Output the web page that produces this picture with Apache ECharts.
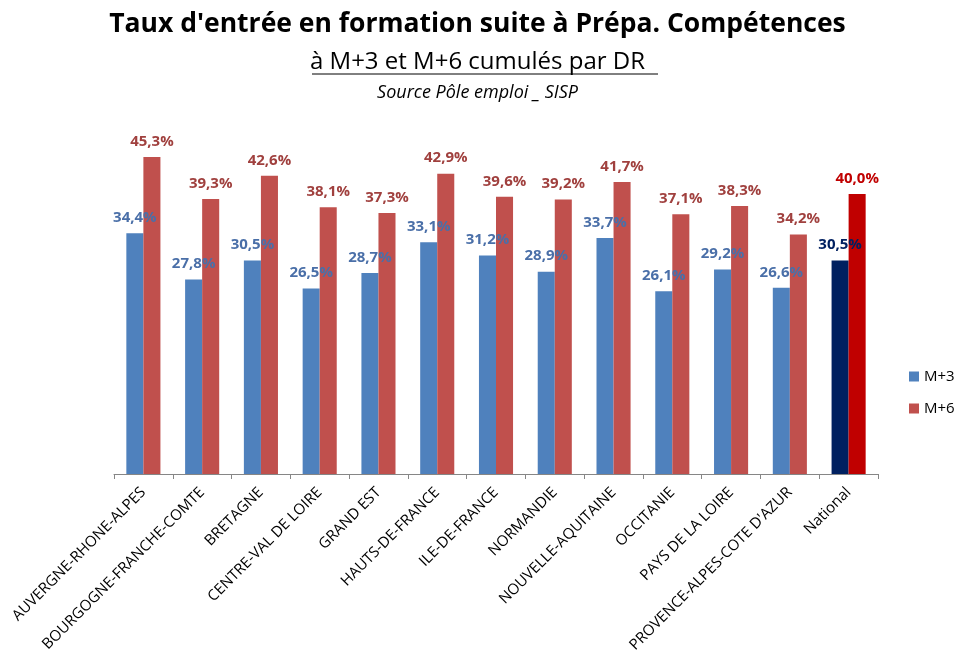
<!DOCTYPE html>
<html>
<head>
<meta charset="utf-8">
<script src="https://cdn.jsdelivr.net/npm/echarts@6/dist/echarts.min.js"></script>
<style>
  html, body { margin: 0; padding: 0; background: #fff; }
  #main { width: 955px; height: 657px; }
</style>
</head>
<body>
<div id="main"></div>
<script>
// values
var categories = ['AUVERGNE-RHONE-ALPES', 'BOURGOGNE-FRANCHE-COMTE', 'BRETAGNE', 'CENTRE-VAL DE LOIRE',
  'GRAND EST', 'HAUTS-DE-FRANCE', 'ILE-DE-FRANCE', 'NORMANDIE', 'NOUVELLE-AQUITAINE',
  'OCCITANIE', 'PAYS DE LA LOIRE', "PROVENCE-ALPES-COTE D'AZUR", 'National'];
var m3 = [34.4, 27.8, 30.5, 26.5, 28.7, 33.1, 31.2, 28.9, 33.7, 26.1, 29.2, 26.6, 30.5];
var m6 = [45.3, 39.3, 42.6, 38.1, 37.3, 42.9, 39.6, 39.2, 41.7, 37.1, 38.3, 34.2, 40.0];

var font = '"Open Sans", "Noto Sans", sans-serif';

function fmt(v) { return v.toFixed(1).replace('.', ',') + '%'; }

// last category (National) gets darker colours
function build(vals, col, labCol, natCol, natLab) {
  return vals.map(function (v, i) {
    var nat = i === vals.length - 1;
    return {
      value: v,
      itemStyle: { color: nat ? natCol : col },
      label: { color: nat ? natLab : labCol }
    };
  });
}

var chart = echarts.init(document.getElementById('main'));
chart.setOption({
  animation: false,
  title: [
    { text: "Taux d'entrée en formation suite à Prépa. Compétences", left: 'center', top: 6,
      textStyle: { fontFamily: font, fontWeight: 'bold', fontSize: 26.5, color: '#000' } },
    { text: 'à M+3 et M+6 cumulés par DR', left: 'center', top: 45,
      textStyle: { fontFamily: font, fontWeight: 'normal', fontSize: 24, color: '#000' } },
    { text: 'Source Pôle emploi _ SISP', left: 'center', top: 79,
      textStyle: { fontFamily: font, fontStyle: 'italic', fontWeight: 'normal', fontSize: 18, color: '#000' } }
  ],
  graphic: [
    { type: 'line', shape: { x1: 312, y1: 74, x2: 658, y2: 74 }, style: { stroke: '#000', lineWidth: 1 } }
  ],
  legend: {
    orient: 'vertical', left: 904, top: 364, itemGap: 17,
    itemWidth: 10, itemHeight: 10, icon: 'rect',
    textStyle: { fontFamily: font, fontSize: 15, color: '#000' },
    data: [{ name: 'M+3', itemStyle: { color: '#4F81BD' } }, { name: 'M+6', itemStyle: { color: '#C0504D' } }]
  },
  grid: { left: 114, right: 77, top: 124, bottom: 183, containLabel: false },
  xAxis: {
    type: 'category', data: categories,
    axisLine: { lineStyle: { color: '#868686' } },
    axisTick: { show: true, length: 5, lineStyle: { color: '#868686' } },
    axisLabel: { rotate: 45, interval: 0, fontFamily: font, fontSize: 15, color: '#000', margin: 16 }
  },
  yAxis: { type: 'value', min: 0, max: 50, show: false, splitLine: { show: false } },
  series: [
    { name: 'M+3', type: 'bar', barGap: '0%', barCategoryGap: '42%',
      data: build(m3, '#4F81BD', '#4A6FA8', '#002060', '#002060'),
      label: { show: true, position: 'top', distance: 8, formatter: function (p) { return fmt(p.value); },
        fontFamily: font, fontWeight: 'bold', fontSize: 15 } },
    { name: 'M+6', type: 'bar',
      data: build(m6, '#C0504D', '#A0403E', '#C00000', '#C00000'),
      label: { show: true, position: 'top', distance: 8, formatter: function (p) { return fmt(p.value); },
        fontFamily: font, fontWeight: 'bold', fontSize: 15 } }
  ]
});
</script>
</body>
</html>
